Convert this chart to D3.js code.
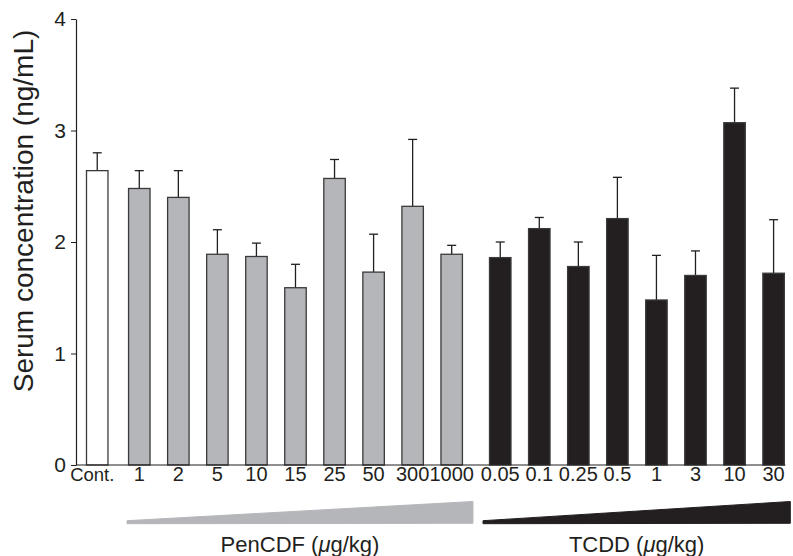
<!DOCTYPE html>
<html>
<head>
<meta charset="utf-8">
<script src="https://cdn.jsdelivr.net/npm/d3@7"></script>
<style>
  body { margin: 0; background: #fff; }
  svg { display: block; font-family: "Liberation Sans", Arial, sans-serif; }
</style>
</head>
<body>
<div id="chart"></div>
<script>
// dose labels under each bar, and the group each bar belongs to
var doseLabels = ["Cont.", "1", "2", "5", "10", "15", "25", "50", "300", "1000",
                  "0.05", "0.1", "0.25", "0.5", "1", "3", "10", "30"];
var doseGroups = ["Control", "PenCDF", "PenCDF", "PenCDF", "PenCDF", "PenCDF", "PenCDF", "PenCDF", "PenCDF", "PenCDF",
                  "TCDD", "TCDD", "TCDD", "TCDD", "TCDD", "TCDD", "TCDD", "TCDD"];
// serum concentration (ng/mL), mean and upper error
var means  = [2.64, 2.48, 2.40, 1.89, 1.87, 1.59, 2.57, 1.73, 2.32, 1.89,
              1.86, 2.12, 1.78, 2.21, 1.48, 1.70, 3.07, 1.72];
var errors = [0.16, 0.16, 0.24, 0.22, 0.12, 0.21, 0.17, 0.34, 0.60, 0.08,
              0.14, 0.10, 0.22, 0.37, 0.40, 0.22, 0.31, 0.48];
var yTicks = [0, 1, 2, 3, 4];
var groupTitles = ["PenCDF", "TCDD"];

var W = 793, H = 556;
var ink = "#231f20";
var fills = {Control: "#ffffff", PenCDF: "#b5b6ba", TCDD: "#231f20"};
var groupShift = {Control: 0, PenCDF: 3, TCDD: 12.5};

var data = means.map(function(m, i) {
    return {i: i, label: doseLabels[i], group: doseGroups[i], mean: m, err: errors[i]};
});

var svg = d3.select("#chart").append("svg")
    .attr("width", W)
    .attr("height", H);

var y = d3.scaleLinear().domain([0, 4]).range([465, 19]);

var step = 39.05;
var x = d3.scaleBand()
    .domain(d3.range(data.length))
    .range([86.5, 86.5 + step * (data.length - 0.45)])
    .paddingInner(0.45)
    .paddingOuter(0);

function bx(d) { return x(d.i) + groupShift[d.group]; }
var bw = x.bandwidth();

// y axis
var yAxis = d3.axisLeft(y)
    .tickValues(yTicks)
    .tickFormat(d3.format("d"))
    .tickSize(5)
    .tickSizeOuter(0)
    .tickPadding(5);

var gy = svg.append("g")
    .attr("transform", "translate(76,0)")
    .call(yAxis);
gy.select(".domain").attr("stroke", ink).attr("stroke-width", 1.2);
gy.selectAll(".tick line").attr("stroke", ink).attr("stroke-width", 1);
gy.selectAll(".tick text")
    .attr("fill", ink)
    .style("font-size", "21px")
    .style("font-family", "Liberation Sans, Arial, sans-serif");

svg.append("text")
    .attr("transform", "translate(33," + 211 + ") rotate(-90)")
    .attr("text-anchor", "middle")
    .attr("fill", ink)
    .style("font-size", "28px")
    .text("Serum concentration (ng/mL)");

// error bars (upper only)
var eb = svg.append("g").attr("stroke", ink).attr("stroke-width", 1.3);
eb.selectAll("line.stem")
    .data(data)
    .enter().append("line")
    .attr("class", "stem")
    .attr("x1", function(d) { return bx(d) + bw / 2; })
    .attr("x2", function(d) { return bx(d) + bw / 2; })
    .attr("y1", function(d) { return y(d.mean); })
    .attr("y2", function(d) { return y(d.mean + d.err); });
eb.selectAll("line.cap")
    .data(data)
    .enter().append("line")
    .attr("class", "cap")
    .attr("x1", function(d) { return bx(d) + bw / 2 - 4.5; })
    .attr("x2", function(d) { return bx(d) + bw / 2 + 4.5; })
    .attr("y1", function(d) { return y(d.mean + d.err); })
    .attr("y2", function(d) { return y(d.mean + d.err); });

// bars
svg.selectAll("rect.bar")
    .data(data)
    .enter().append("rect")
    .attr("class", "bar")
    .attr("x", function(d) { return bx(d); })
    .attr("y", function(d) { return y(d.mean); })
    .attr("width", bw)
    .attr("height", function(d) { return y(0) - y(d.mean); })
    .attr("fill", function(d) { return fills[d.group]; })
    .attr("stroke", "#3a3a3a")
    .attr("stroke-width", 1.3);

// x baseline
svg.append("line")
    .attr("x1", 76)
    .attr("x2", bx(data[data.length - 1]) + bw + 1)
    .attr("y1", y(0))
    .attr("y2", y(0))
    .attr("stroke", ink)
    .attr("stroke-width", 1.2);

// dose labels
svg.selectAll("text.dose")
    .data(data)
    .enter().append("text")
    .attr("class", "dose")
    .attr("x", function(d) { return bx(d) + bw / 2; })
    .attr("dx", function(d) { return d.group === "Control" ? -5 : 0; })
    .attr("y", 481)
    .attr("text-anchor", "middle")
    .attr("fill", ink)
    .style("font-size", function(d) { return d.group === "Control" ? "18.5px" : "20px"; })
    .text(function(d) { return d.label; });

// dose wedges
groupTitles.forEach(function(g) {
    var members = data.filter(function(d) { return d.group === g; });
    var first = members[0], last = members[members.length - 1];
    var left = g === "PenCDF" ? bx(first) - 1.5 : bx(first) - 6.5;
    var right = g === "PenCDF" ? bx(last) + bw + 10.5 : bx(last) + bw + 6;
    var path = d3.path();
    path.moveTo(left, 520.7);
    path.lineTo(right, 501.5);
    path.lineTo(right, 523.3);
    path.lineTo(left, 523.7);
    path.closePath();
    svg.append("path")
        .attr("d", path.toString())
        .attr("fill", fills[g])
        .attr("stroke", fills[g])
        .attr("stroke-width", 1)
        .attr("stroke-linejoin", "round");

    var t = svg.append("text")
        .attr("x", (left + right) / 2)
        .attr("y", 552)
        .attr("text-anchor", "middle")
        .attr("fill", ink)
        .style("font-size", "22px");
    t.append("tspan").text(g + " (");
    t.append("tspan").style("font-style", "italic").text("\u03bc");
    t.append("tspan").text("g/kg)");
});
</script>
</body>
</html>
